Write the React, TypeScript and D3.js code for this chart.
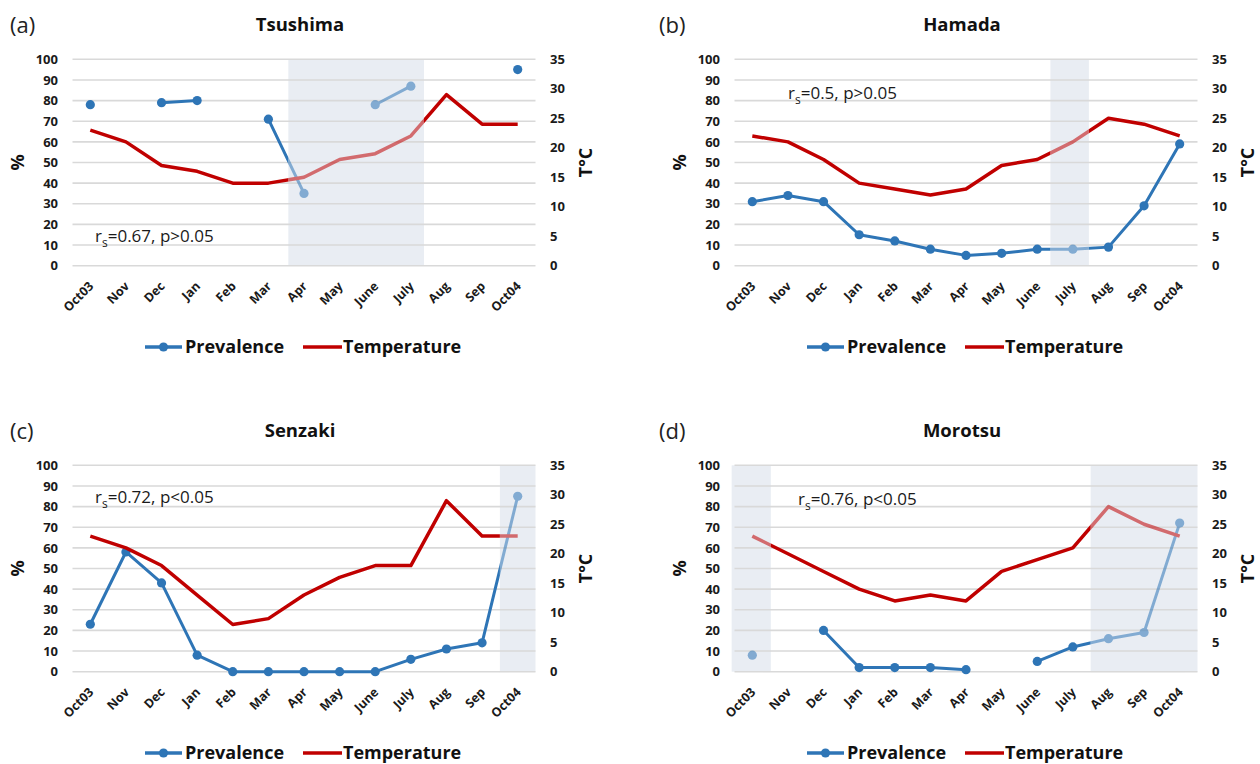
import React from "react";
import * as d3 from "d3";

const months = ["Oct03", "Nov", "Dec", "Jan", "Feb", "Mar", "Apr", "May", "June", "July", "Aug", "Sep", "Oct04"];
const pctTicks = [0, 10, 20, 30, 40, 50, 60, 70, 80, 90, 100];
const tempTicks = [0, 5, 10, 15, 20, 25, 30, 35];

// prevalence (%) per month, null = no sample
const tsushimaPrev = [78, null, 79, 80, null, 71, 35, null, 78, 87, null, null, 95];
const hamadaPrev = [31, 34, 31, 15, 12, 8, 5, 6, 8, 8, 9, 29, 59];
const senzakiPrev = [23, 58, 43, 8, 0, 0, 0, 0, 0, 6, 11, 14, 85];
const morotsuPrev = [8, null, 20, 2, 2, 2, 1, null, 5, 12, 16, 19, 72];

// water temperature (°C)
const tsushimaTemp = [23, 21, 17, 16, 14, 14, 15, 18, 19, 22, 29, 24, 24];
const hamadaTemp = [22, 21, 18, 14, 13, 12, 13, 17, 18, 21, 25, 24, 22];
const senzakiTemp = [23, 21, 18, 13, 8, 9, 13, 16, 18, 18, 29, 23, 23];
const morotsuTemp = [23, 20, 17, 14, 12, 13, 12, 17, 19, 21, 28, 25, 23];

// shaded periods, in month index units (0 = Oct03)
const tsushimaShade = [[5.56, 9.37]];
const hamadaShade = [[8.37, 9.45]];
const senzakiShade = [[11.5, 12.5]];
const morotsuShade = [[-0.58, 0.52], [9.5, 12.5]];

const BLUE = "#2e75b6";
const RED = "#c00000";
const FONT = "'Open Sans', sans-serif";

// panel geometry (relative to panel origin)
const L = 72.5, R = 535.5, T = 59.3, B = 265.7;

type PanelProps = {
  id: string;
  ox: number;
  oy: number;
  letter: string;
  letterX: number;
  title: string;
  prev: (number | null)[];
  temp: number[];
  shade: number[][];
  rs: string;
  p: string;
  statX: number;
  statY: number;
};

function Panel({ id, ox, oy, letter, letterX, title, prev, temp, shade, rs, p, statX, statY }: PanelProps) {
  const x = d3.scalePoint<string>().domain(months).range([L, R]).padding(0.5);
  const xi = d3.scaleLinear().domain([-0.5, months.length - 0.5]).range([L, R]);
  const yP = d3.scaleLinear().domain([0, 100]).range([B, T]);
  const yT = d3.scaleLinear().domain([0, 35]).range([B, T]);

  const prevLine = d3.line<number | null>()
    .defined(d => d != null)
    .x((d, i) => x(months[i])!)
    .y(d => yP(d as number));
  const tempLine = d3.line<number>()
    .x((d, i) => x(months[i])!)
    .y(d => yT(d));

  const shadeRects = shade.map(([a, b]) => [xi(a), xi(b)]);
  // complement of the shaded periods, so lines can be faded inside them
  const outside: number[][] = [];
  let cur = -60;
  shadeRects.forEach(([a, b]) => {
    if (a > cur) outside.push([cur, a]);
    cur = b;
  });
  outside.push([cur, 700]);

  const marks = (
    <>
      <path d={prevLine(prev) || ""} fill="none" stroke={BLUE} strokeWidth={3} strokeLinejoin="round" />
      {prev.map((v, i) =>
        v == null ? null : <circle key={i} cx={x(months[i])} cy={yP(v)} r={4.6} fill={BLUE} />
      )}
      <path d={tempLine(temp) || ""} fill="none" stroke={RED} strokeWidth={3.5} strokeLinejoin="round" />
    </>
  );

  return (
    <g transform={`translate(${ox},${oy})`}>
      <defs>
        <clipPath id={`out-${id}`}>
          {outside.map(([a, b], i) => <rect key={i} x={a} y={0} width={b - a} height={400} />)}
        </clipPath>
        <clipPath id={`in-${id}`}>
          {shadeRects.map(([a, b], i) => <rect key={i} x={a} y={0} width={b - a} height={400} />)}
        </clipPath>
      </defs>

      <text x={letterX} y={33} fontFamily={FONT} fontSize={22} fill="#222">{letter}</text>
      <text x={300} y={30.5} textAnchor="middle" fontFamily={FONT} fontWeight={700} fontSize={18.5} fill="#111">{title}</text>

      {shadeRects.map(([a, b], i) => (
        <rect key={i} x={a} y={T} width={b - a} height={B - T} fill="#e9edf3" />
      ))}

      {pctTicks.map(t => (
        <line key={t} x1={L} x2={R} y1={yP(t)} y2={yP(t)} stroke="#d9d9d9" strokeWidth={1.6} />
      ))}

      {pctTicks.map(t => (
        <text key={t} x={58} y={yP(t)} dy="0.36em" textAnchor="end" fontFamily={FONT} fontWeight={700} fontSize={13} fill="#1a1a1a">{t}</text>
      ))}
      {tempTicks.map(t => (
        <text key={t} x={550} y={yT(t)} dy="0.36em" textAnchor="start" fontFamily={FONT} fontWeight={700} fontSize={13} fill="#1a1a1a">{t}</text>
      ))}
      {months.map(m => {
        const px = (x(m) as number) + 4;
        return (
          <text key={m} transform={`translate(${px},287) rotate(-45)`} textAnchor="end" fontFamily={FONT} fontWeight={700} fontSize={12.5} fill="#1a1a1a">{m}</text>
        );
      })}

      <text transform={`translate(24,${(T + B) / 2}) rotate(-90)`} textAnchor="middle" fontFamily={FONT} fontWeight={700} fontSize={18} fill="#111">%</text>
      <text transform={`translate(592,${(T + B) / 2}) rotate(-90)`} textAnchor="middle" fontFamily={FONT} fontWeight={700} fontSize={18} fill="#111">T°C</text>

      <g clipPath={`url(#out-${id})`}>{marks}</g>
      <g clipPath={`url(#in-${id})`} opacity={0.55}>{marks}</g>

      <text x={statX} y={statY} fontFamily={FONT} fontSize={17} fill="#1a1a1a">
        r<tspan dy={5} fontSize={12}>s</tspan><tspan dy={-5}>={rs}, {p}</tspan>
      </text>

      <g fontFamily={FONT} fontWeight={700} fontSize={18} fill="#111">
        <line x1={145} x2={182} y1={347} y2={347} stroke={BLUE} strokeWidth={3.5} />
        <circle cx={163.5} cy={347} r={4.6} fill={BLUE} />
        <text x={185} y={353}>Prevalence</text>
        <line x1={303} x2={342} y1={347} y2={347} stroke={RED} strokeWidth={3.5} />
        <text x={343} y={353}>Temperature</text>
      </g>
    </g>
  );
}

export default function App() {
  return (
    <svg width={1260} height={764} style={{ position: "absolute", left: 0, top: 0, background: "#fff" }}>
      <Panel id="a" ox={0} oy={0} letter="(a)" letterX={10} title="Tsushima"
        prev={tsushimaPrev} temp={tsushimaTemp} shade={tsushimaShade} rs="0.67" p="p>0.05" statX={95} statY={242} />
      <Panel id="b" ox={662} oy={0} letter="(b)" letterX={-3} title="Hamada"
        prev={hamadaPrev} temp={hamadaTemp} shade={hamadaShade} rs="0.5" p="p>0.05" statX={126} statY={99} />
      <Panel id="c" ox={0} oy={406} letter="(c)" letterX={10} title="Senzaki"
        prev={senzakiPrev} temp={senzakiTemp} shade={senzakiShade} rs="0.72" p="p<0.05" statX={95} statY={97} />
      <Panel id="d" ox={662} oy={406} letter="(d)" letterX={-3} title="Morotsu"
        prev={morotsuPrev} temp={morotsuTemp} shade={morotsuShade} rs="0.76" p="p<0.05" statX={136} statY={99} />
    </svg>
  );
}
